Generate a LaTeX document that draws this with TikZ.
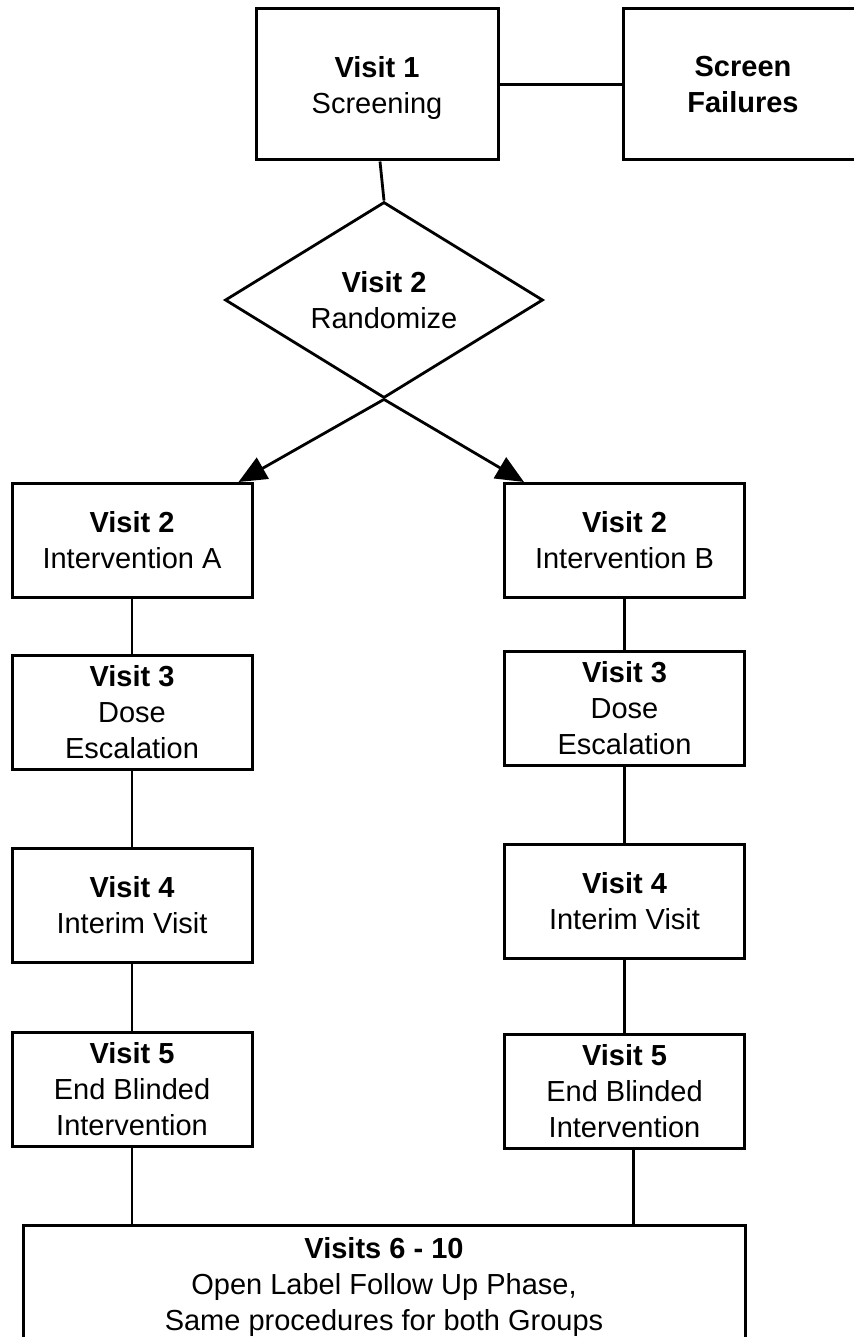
\documentclass[tikz,border=0pt]{standalone}
\usepackage{fontspec}
\setmainfont{Liberation Sans}
\usetikzlibrary{arrows.meta,shapes.geometric}

\begin{document}
\begin{tikzpicture}[
  x=0.5pt,y=-0.5pt,
  every node/.style={font=\fontsize{14.5}{18}\selectfont},
  visit/.style={draw,line width=1.5pt,minimum width=120pt,minimum height=57pt,
    align=center,inner sep=0pt},
  decide/.style={draw,line width=1.4pt,diamond,aspect=1.62,minimum width=159pt,
    minimum height=98pt,align=center,inner sep=0pt},
  link/.style={line width=1.4pt},
  arr/.style={-{Triangle[length=14pt,width=12pt]},line width=1.4pt}
]
  \path[use as bounding box] (0,0) rectangle (854,1337);
  \clip (0,0) rectangle (854,1337);
  % screening and randomisation
  \node[visit,minimum width=121pt,minimum height=75.5pt,text depth=-6pt] (v1) at (377,84.5)
    {\textbf{Visit 1}\\Screening};
  \node[visit,minimum height=75.5pt,text depth=-6pt] (sf) at (743,84.5)
    {\textbf{Screen}\\\textbf{Failures}};
  \node[decide] (rand) at (384,300) {\textbf{Visit 2}\\Randomize};
  % group A
  \node[visit] (a2) at (132,540.5) {\textbf{Visit 2}\\Intervention A};
  \node[visit] (a3) at (132,712) {\textbf{Visit 3}\\Dose\\Escalation};
  \node[visit] (a4) at (132,905.5) {\textbf{Visit 4}\\Interim Visit};
  \node[visit] (a5) at (132,1089) {\textbf{Visit 5}\\End Blinded\\Intervention};
  % group B
  \node[visit] (b2) at (624.5,540.5) {\textbf{Visit 2}\\Intervention B};
  \node[visit] (b3) at (624.5,708) {\textbf{Visit 3}\\Dose\\Escalation};
  \node[visit] (b4) at (624.5,901.5) {\textbf{Visit 4}\\Interim Visit};
  \node[visit] (b5) at (624.5,1091) {\textbf{Visit 5}\\End Blinded\\Intervention};
  % follow up
  \node[visit,minimum width=361pt,minimum height=62pt] (fu) at (384,1287)
    {\textbf{Visits 6 - 10}\\Open Label Follow Up Phase,\\Same procedures for both Groups};

  \draw[link] (v1) -- (sf);
  \draw[link] ([xshift=1.5pt]v1.south) -- (rand.north);
  \draw[arr] (rand.south) -- ([xshift=-7.5pt]a2.north east);
  \draw[arr] (rand.south) -- ([xshift=10.5pt]b2.north west);
  \foreach \s/\t in {a2/a3,a3/a4,a4/a5,b2/b3,b3/b4,b4/b5}
    \draw[link] (\s) -- (\t);
  \draw[link] (a5) -- (a5 |- fu.north);
  \draw[link] ([xshift=4.5pt]b5.south) -- ([xshift=4.5pt]b5.south |- fu.north);
\end{tikzpicture}
\end{document}
